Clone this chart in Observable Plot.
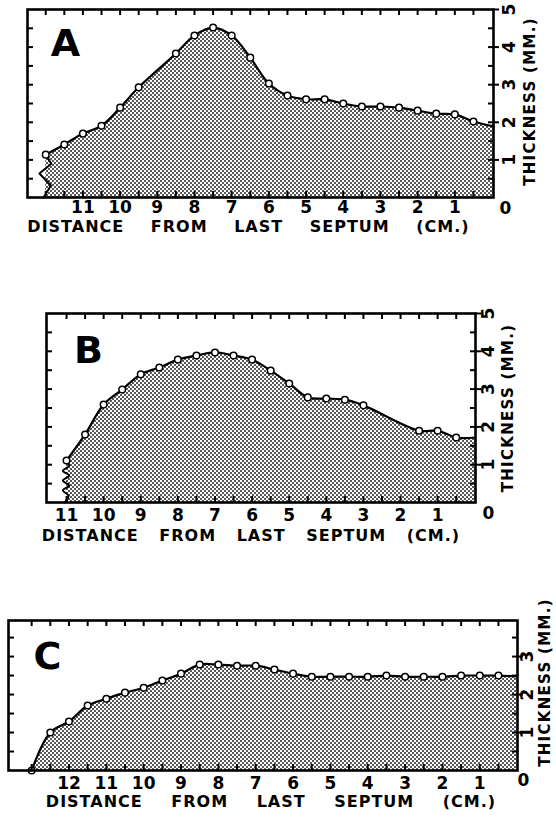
<!DOCTYPE html>
<html><head><meta charset="utf-8">
<script src="https://cdn.jsdelivr.net/npm/d3@7"></script>
<script src="https://cdn.jsdelivr.net/npm/@observablehq/plot@0.6"></script>
<style>
body{margin:0;background:#fff;}
#wrap{position:relative;width:556px;height:817px;overflow:hidden;}
#wrap > div{position:absolute;left:0;}
#wrap svg{overflow:visible;}
</style></head><body><div id="wrap"></div>
<script>
// ---------- DATA ----------
const xTitle = "DISTANCE FROM LAST SEPTUM (CM.)";
const yTitle = "THICKNESS (MM.)";

// Panel A
const aDist  = [12, 11.5, 11, 10.5, 10, 9.5, 8.5, 8, 7.5, 7, 6.5, 6, 5.5, 5, 4.5, 4, 3.5, 3, 2.5, 2, 1.5, 1, 0.5];
const aThick = [1.14, 1.41, 1.70, 1.91, 2.39, 2.93, 3.83, 4.31, 4.52, 4.31, 3.72, 3.03, 2.71, 2.61, 2.61, 2.50, 2.42, 2.42, 2.39, 2.31, 2.23, 2.21, 2.02];
const aEndDist = -0.04, aEndThick = 1.89;
const aBreakDist  = [12, 11.85, 12.17, 11.86, 12.06];
const aBreakThick = [1.14, 0.9, 0.64, 0.32, 0];
const aXLabels = [11, 10, 9, 8, 7, 6, 5, 4, 3, 2, 1];
const aYLabels = [1, 2, 3, 4, 5];

// Panel B
const bDist  = [11, 10.5, 10, 9.5, 9, 8.5, 8, 7.5, 7, 6.5, 6, 5.5, 5, 4.5, 4, 3.5, 3, 1.5, 1, 0.5];
const bThick = [1.11, 1.80, 2.59, 2.99, 3.39, 3.57, 3.78, 3.89, 3.97, 3.89, 3.78, 3.49, 3.15, 2.78, 2.75, 2.72, 2.57, 1.90, 1.90, 1.72];
const bEndDist = -0.02, bEndThick = 1.72;
const bBreakDist  = [11, 10.93, 11.1, 10.93, 11.1, 10.93, 11.1, 10.95, 11.05];
const bBreakThick = [1.11, 0.97, 0.84, 0.71, 0.58, 0.45, 0.32, 0.18, 0];
const bXLabels = [11, 10, 9, 8, 7, 6, 5, 4, 3, 2, 1];
const bYLabels = [1, 2, 3, 4, 5];

// Panel C
const cDist  = [13, 12.5, 12, 11.5, 11, 10.5, 10, 9.5, 9, 8.5, 8, 7.5, 7, 6.5, 6, 5.5, 5, 4.5, 4, 3.5, 3, 2.5, 2, 1.5, 1, 0.5];
const cThick = [0, 1.0, 1.29, 1.71, 1.89, 2.05, 2.18, 2.37, 2.55, 2.79, 2.79, 2.76, 2.76, 2.66, 2.55, 2.47, 2.47, 2.47, 2.47, 2.50, 2.47, 2.47, 2.47, 2.50, 2.50, 2.50];
const cEndDist = 0, cEndThick = 2.48;
const cXLabels = [12, 11, 10, 9, 8, 7, 6, 5, 4, 3, 2, 1];
const cYLabels = [1, 2, 3];

// ---------- DRAWING ----------
const FONT = "'DejaVu Sans', 'Liberation Sans', sans-serif";
const rows = (xs, ys) => xs.map((d, i) => ({dist: d, thick: ys[i]}));
const halves = (lo, hi) => d3.range(lo, hi + 1e-9, 0.5);

function panel(cfg) {
  const W = 556 - cfg.ml - cfg.mr;
  const H = cfg.height - cfg.mt - cfg.mb;
  const pts = rows(cfg.dist, cfg.thick);
  const curve = pts.concat([{dist: cfg.endDist, thick: cfg.endThick}]);
  const fillUrl = `url(#${cfg.id})`;
  const marks = [
    Plot.areaY(curve, {x: "dist", y: "thick", fill: fillUrl, curve: "catmull-rom"}),
    Plot.line(curve, {x: "dist", y: "thick", stroke: "black", strokeWidth: 2.2, curve: "catmull-rom"}),
  ];
  if (cfg.brkDist) {
    marks.push(Plot.line(rows(cfg.brkDist, cfg.brkThick), {x: "dist", y: "thick", stroke: "black", strokeWidth: 2, curve: cfg.brkCurve}));
  }
  marks.push(
    Plot.dot(pts, {x: "dist", y: "thick", r: 3.3, fill: "white", stroke: "black", strokeWidth: 1.5}),
    // inward ticks
    Plot.ruleX(cfg.xTicks, {x: d => d, insetTop: H - 6, stroke: "black", strokeWidth: 2}),
    Plot.ruleX(cfg.xTicks, {x: d => d, insetBottom: H - 6, stroke: "black", strokeWidth: 2}),
    Plot.ruleY(cfg.yTicks, {y: d => d, insetRight: W - 6, stroke: "black", strokeWidth: 2}),
    Plot.ruleY(cfg.yTicks, {y: d => d, insetLeft: W - 5, stroke: "black", strokeWidth: 2}),
    // outward ticks on right at integers
    Plot.ruleY(cfg.yLabels, {y: d => d, insetLeft: W - 6, dx: 6, stroke: "black", strokeWidth: 2}),
    Plot.frame({stroke: "black", strokeWidth: 2.6}),
    // x tick labels
    Plot.text(cfg.xLabels, {x: d => d, frameAnchor: "bottom", dy: cfg.xlDy, text: d => String(d), fontSize: 17, fontWeight: "bold", lineAnchor: "middle"}),
    // y tick labels (rotated)
    Plot.text(cfg.yLabels, {y: d => d, frameAnchor: "right", dx: cfg.ylDx, text: d => String(d), rotate: -90, fontSize: 17, fontWeight: "bold", textAnchor: "middle", lineAnchor: "middle"}),
    Plot.text(["0"], {frameAnchor: "bottom-right", dx: cfg.zeroDx, dy: cfg.zeroDy, text: d => d, fontSize: 17, fontWeight: "bold", textAnchor: "middle", lineAnchor: "middle"}),
    // titles
    Plot.text([xTitle], {frameAnchor: "bottom", dx: cfg.xtDx, dy: cfg.xtDy, text: d => d, fontSize: 16, fontWeight: "bold", lineAnchor: "middle"}),
    Plot.text([yTitle], {frameAnchor: "right", dx: cfg.ytDx, dy: cfg.ytDy, text: d => d, rotate: -90, fontSize: 15, fontWeight: "bold", textAnchor: "middle", lineAnchor: "middle"}),
    Plot.text([cfg.letter], {frameAnchor: "top-left", dx: cfg.lDx, dy: cfg.lDy, text: d => d, fontSize: 38, fontWeight: "bold", textAnchor: "middle", lineAnchor: "middle"})
  );
  const svg = Plot.plot({
    width: 556, height: cfg.height,
    marginTop: cfg.mt, marginBottom: cfg.mb, marginLeft: cfg.ml, marginRight: cfg.mr,
    x: {domain: cfg.xDomain, axis: null},
    y: {domain: cfg.yDomain, axis: null},
    style: {fontFamily: FONT, background: "white", color: "black"},
    marks
  });
  const defs = d3.select(svg).insert("defs", ":first-child");
  const pat = defs.append("pattern").attr("id", cfg.id).attr("width", 4).attr("height", 4).attr("patternUnits", "userSpaceOnUse");
  pat.append("rect").attr("width", 4).attr("height", 4).attr("fill", "#fff");
  pat.append("circle").attr("cx", 1).attr("cy", 1).attr("r", 0.95).attr("fill", "#111");
  pat.append("circle").attr("cx", 3).attr("cy", 3).attr("r", 0.95).attr("fill", "#111");
  d3.select(svg).selectAll("text").filter(function() { return this.textContent === xTitle; })
    .style("word-spacing", cfg.wordSpacing + "px").style("letter-spacing", "1px");
  d3.select(svg).selectAll("text").filter(function() { return this.textContent === yTitle; })
    .style("letter-spacing", "1.3px");
  const div = document.createElement("div");
  div.style.top = cfg.top + "px";
  div.appendChild(svg);
  document.getElementById("wrap").appendChild(div);
}

panel({id: "dotsA", letter: "A", top: 0, height: 245, mt: 9, mb: 48, ml: 27, mr: 63,
  dist: aDist, thick: aThick, endDist: aEndDist, endThick: aEndThick,
  brkDist: aBreakDist, brkThick: aBreakThick, brkCurve: "linear",
  xDomain: [12.49, -0.04], yDomain: [0, 5],
  xTicks: halves(0.5, 12), yTicks: halves(0.5, 4.5), xLabels: aXLabels, yLabels: aYLabels,
  xlDy: 10, ylDx: 16, zeroDx: 12, zeroDy: 11, xtDx: -12, xtDy: 29, ytDx: 37, ytDy: -2, lDx: 38, lDy: 34, wordSpacing: 20});

panel({id: "dotsB", letter: "B", top: 290, height: 255, mt: 23, mb: 43, ml: 46, mr: 81,
  dist: bDist, thick: bThick, endDist: bEndDist, endThick: bEndThick,
  brkDist: bBreakDist, brkThick: bBreakThick, brkCurve: "catmull-rom",
  xDomain: [11.54, -0.02], yDomain: [0, 5],
  xTicks: halves(0.5, 11), yTicks: halves(0.5, 4.5), xLabels: bXLabels, yLabels: bYLabels,
  xlDy: 13, ylDx: 13, zeroDx: 13, zeroDy: 11, xtDx: -10, xtDy: 33, ytDx: 33, ytDy: 0, lDx: 42, lDy: 37, wordSpacing: 14});

panel({id: "dotsC", letter: "C", top: 580, height: 237, mt: 40, mb: 47, ml: 8, mr: 39,
  dist: cDist, thick: cThick, endDist: cEndDist, endThick: cEndThick,
  brkDist: null, brkThick: null,
  xDomain: [13.62, -0.01], yDomain: [0, 3.95],
  xTicks: halves(0.5, 13), yTicks: halves(0.5, 3.5), xLabels: cXLabels, yLabels: cYLabels,
  xlDy: 13, ylDx: 10, zeroDx: 6, zeroDy: 10, xtDx: 8, xtDy: 31, ytDx: 28, ytDy: -13, lDx: 39, lDy: 36, wordSpacing: 22});
</script></body></html>
